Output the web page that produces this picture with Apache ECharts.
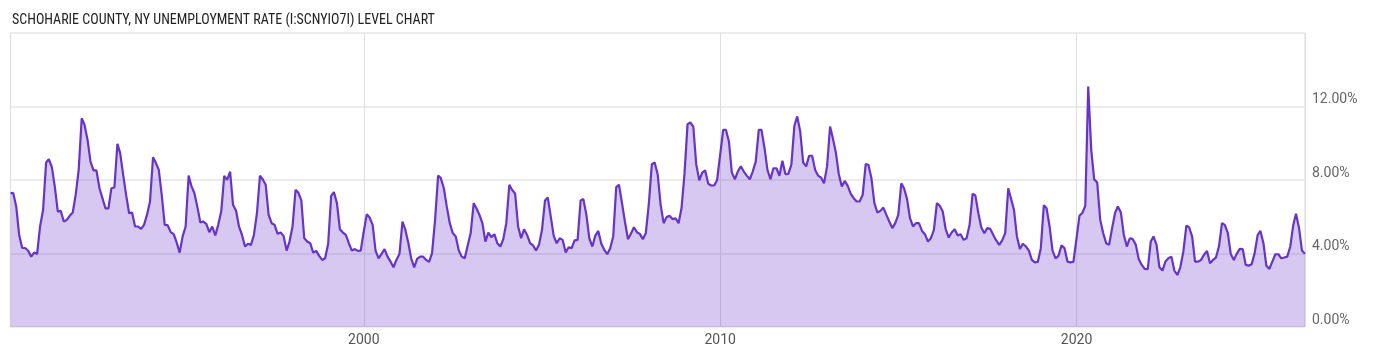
<!DOCTYPE html>
<html>
<head>
<meta charset="utf-8">
<script src="https://cdn.jsdelivr.net/npm/echarts@6/dist/echarts.min.js"></script>
<style>
html,body{margin:0;padding:0;background:#fff;}
#chart{width:1400px;height:357px;}
</style>
</head>
<body>
<div id="chart"></div>
<script>
// Monthly data, first point = January 1990 (plotted at month end)
const startYear = 1990;
const startMonth = 1;

const rates1990s = [
  7.28, 7.3, 6.55, 5.0, 4.3, 4.3, 4.15, 3.83, 4.05, 3.98, 5.47, 6.37,
  8.95, 9.13, 8.7, 7.64, 6.28, 6.33, 5.74, 5.83, 6.05, 6.23, 7.19, 8.55,
  11.36, 11.0, 10.18, 9.0, 8.52, 8.52, 7.55, 7.0, 6.46, 6.46, 7.55, 7.59,
  9.97, 9.46, 8.28, 7.19, 6.19, 6.23, 5.47, 5.47, 5.34, 5.56, 6.1, 6.83,
  9.24, 8.95, 8.55, 7.19, 5.56, 5.54, 5.16, 5.05, 4.6, 4.05, 4.92, 5.47,
  8.24, 7.68, 7.28, 6.55, 5.69, 5.74, 5.61, 5.16, 5.47, 4.98, 5.56, 6.28,
  8.23, 8.0, 8.46, 6.65, 6.33, 5.47, 5.01, 4.38, 4.53, 4.47, 5.01, 6.19,
  8.23, 8.04, 7.74, 6.1, 5.65, 5.56, 5.07, 5.14, 4.96, 4.16, 4.65, 5.47,
  7.46, 7.32, 6.89, 4.83, 4.65, 4.56, 4.05, 4.14, 3.87, 3.65, 3.74, 4.53,
  7.14, 7.34, 6.74, 5.32, 5.14, 5.01, 4.56, 4.16, 4.24, 4.14, 4.16, 5.2
];
const rates2000s = [
  6.14, 5.96, 5.56, 4.16, 3.74, 3.98, 4.24, 3.83, 3.56, 3.25, 3.65, 3.98,
  5.74, 5.32, 4.6, 3.74, 3.25, 3.71, 3.83, 3.83, 3.65, 3.54, 4.02, 5.83,
  8.24, 8.1, 7.55, 6.55, 5.65, 5.11, 4.93, 4.16, 3.83, 3.74, 4.42, 5.11,
  6.74, 6.46, 6.1, 5.65, 4.65, 5.14, 4.89, 5.05, 4.56, 4.38, 4.78, 5.65,
  7.74, 7.46, 7.25, 5.47, 4.83, 5.32, 5.01, 4.56, 4.44, 4.16, 4.47, 5.29,
  6.89, 7.05, 6.01, 4.96, 4.56, 4.83, 4.74, 4.05, 4.34, 4.29, 4.71, 4.74,
  6.89, 6.96, 6.1, 4.83, 4.38, 4.96, 5.23, 4.53, 4.2, 3.96, 4.29, 4.93,
  7.61, 7.74, 6.74, 5.74, 4.78, 5.07, 5.43, 5.16, 5.07, 4.78, 5.11, 6.7,
  8.86, 8.95, 8.3, 6.65, 5.65, 5.98, 6.05, 5.87, 5.92, 5.65, 6.46, 8.36,
  11.04, 11.13, 10.9, 8.85, 7.98, 8.4, 8.52, 7.8, 7.7, 7.7, 8.0, 9.37
];
const rates2010s = [
  10.73, 10.73, 10.1, 8.4, 8.04, 8.46, 8.74, 8.46, 8.24, 8.04, 8.46, 9.0,
  10.73, 10.73, 9.73, 8.55, 8.04, 8.64, 8.64, 8.23, 9.05, 8.32, 8.33, 8.83,
  10.95, 11.46, 10.64, 8.95, 8.74, 9.32, 9.32, 8.55, 8.24, 8.13, 7.82, 8.74,
  10.91, 10.28, 9.5, 8.33, 7.64, 7.95, 7.68, 7.25, 7.01, 6.83, 6.83, 7.19,
  8.86, 8.83, 8.09, 6.74, 6.23, 6.32, 6.5, 6.1, 5.74, 5.38, 5.65, 6.1,
  7.82, 7.55, 6.96, 5.92, 5.47, 5.65, 5.65, 5.23, 5.05, 4.65, 4.83, 5.29,
  6.74, 6.6, 6.28, 5.32, 4.87, 5.14, 5.32, 4.98, 5.05, 4.74, 4.83, 5.56,
  7.25, 7.16, 6.19, 5.41, 5.1, 5.38, 5.34, 5.01, 4.71, 4.47, 4.71, 5.11,
  7.55, 7.0, 6.37, 4.93, 4.25, 4.53, 4.38, 4.16, 3.65, 3.52, 3.54, 4.29,
  6.63, 6.46, 5.47, 4.16, 3.74, 3.87, 4.44, 4.29, 3.56, 3.52, 3.54, 4.78
];
const rates2020s = [
  6.05, 6.2, 6.6, 13.09, 9.64, 8.04, 7.86, 5.83, 5.11, 4.56, 4.47, 5.38,
  6.23, 6.56, 6.23, 5.01, 4.38, 4.83, 4.78, 4.47, 3.69, 3.38, 3.16, 3.15,
  4.65, 4.93, 4.47, 3.25, 3.07, 3.56, 3.74, 3.83, 3.07, 2.83, 3.25, 4.1,
  5.52, 5.43, 4.93, 3.56, 3.56, 3.65, 3.93, 4.14, 3.47, 3.65, 3.78, 4.38,
  5.65, 5.56, 5.11, 3.98, 3.65, 3.98, 4.25, 4.24, 3.38, 3.34, 3.41, 4.02,
  5.01, 5.23, 4.56, 3.33, 3.16, 3.56, 3.96, 3.96, 3.74, 3.78, 3.83, 4.38,
  5.56, 6.16, 5.38, 4.16, 3.98
];

const yTicks = [0, 4, 8, 12, 16];
const titleText = 'SCHOHARIE COUNTY, NY UNEMPLOYMENT RATE (I:SCNYIO7I) LEVEL CHART';

const rates = [].concat(rates1990s, rates2000s, rates2010s, rates2020s);
const seriesData = rates.map(function (v, i) {
  // month-end timestamp
  const t = Date.UTC(startYear, startMonth - 1 + i + 1, 0);
  return [t, v];
});
const tMin = seriesData[0][0];
const tMax = seriesData[seriesData.length - 1][0];
const TEN_YEARS = 10 * 365.25 * 24 * 3600 * 1000;

const chart = echarts.init(document.getElementById('chart'), null, {renderer: 'canvas'});
chart.setOption({
  animation: false,
  backgroundColor: '#ffffff',
  title: {
    text: titleText,
    left: 7,
    top: 8,
    textStyle: {
      fontFamily: "'Roboto Condensed', 'Liberation Sans Narrow', 'DejaVu Sans Condensed', Roboto, sans-serif",
      fontSize: 14,
      fontWeight: 'normal',
      color: '#222'
    }
  },
  grid: {
    left: 10.5,
    right: 95,
    top: 33,
    bottom: 30,
    show: true,
    borderColor: '#d9d9d9',
    borderWidth: 1,
    containLabel: false
  },
  xAxis: {
    type: 'time',
    min: tMin,
    max: tMax,
    minInterval: TEN_YEARS,
    maxInterval: TEN_YEARS,
    axisLine: {show: false},
    axisTick: {show: false},
    splitLine: {show: true, lineStyle: {color: '#dedede', width: 1}},
    axisLabel: {
      formatter: '{yyyy}',
      color: '#555',
      fontSize: 14,
      fontFamily: 'Roboto, sans-serif',
      margin: 6,
      hideOverlap: false
    }
  },
  yAxis: {
    type: 'value',
    position: 'right',
    min: yTicks[0],
    max: yTicks[yTicks.length - 1],
    interval: 4,
    axisLine: {show: false},
    axisTick: {show: false},
    splitLine: {show: true, lineStyle: {color: '#ececec', width: 2}},
    axisLabel: {
      showMaxLabel: false,
      formatter: function (v) { return v.toFixed(2) + '%'; },
      color: '#666',
      fontSize: 14,
      fontFamily: 'Roboto, sans-serif',
      verticalAlign: 'bottom',
      align: 'left',
      margin: 7
    }
  },
  series: [{
    type: 'line',
    data: seriesData,
    showSymbol: false,
    smooth: false,
    lineStyle: {color: '#6634c8', width: 2.2},
    itemStyle: {color: '#6634c8'},
    areaStyle: {color: 'rgba(104,53,201,0.27)', opacity: 1}
  }]
});
</script>
</body>
</html>
